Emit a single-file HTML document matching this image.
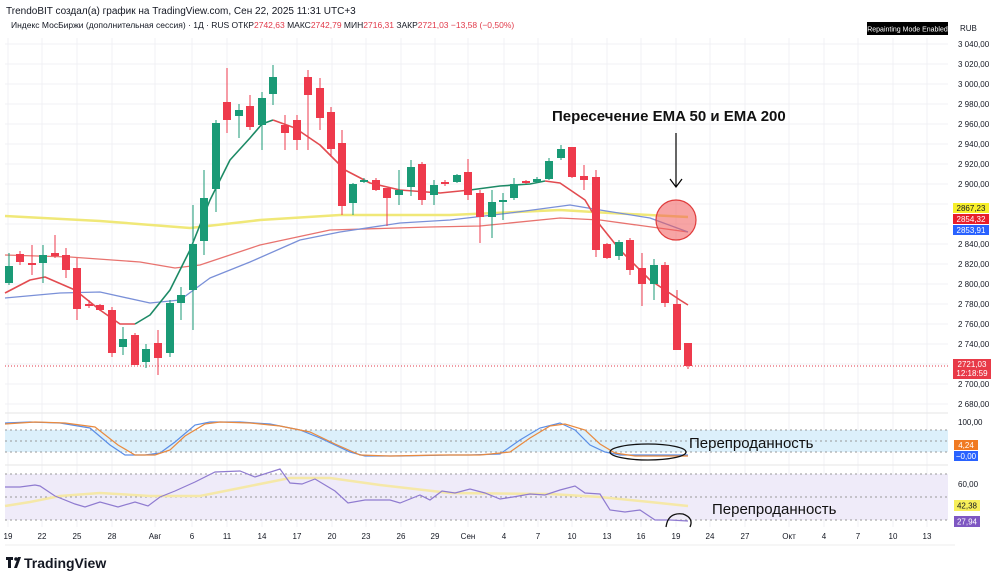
<!DOCTYPE html>
<html><head><meta charset="utf-8"><style>
body{margin:0;background:#fff;width:1000px;height:583px;overflow:hidden;font-family:"Liberation Sans",sans-serif}
svg{display:block}
</style></head><body>
<svg id="s" width="1000" height="583" xmlns="http://www.w3.org/2000/svg" font-family="Liberation Sans, sans-serif">
<rect width="1000" height="583" fill="#fff"/>
<g id="grid" stroke="#f0f1f4" stroke-width="1"></g>
<text x="6" y="14" font-size="10" fill="#131722">TrendoBIT создал(а) график на TradingView.com, Сен 22, 2025 11:31 UTC+3</text>
<text x="11" y="28" font-size="8.5" fill="#131722">Индекс МосБиржи (дополнительная сессия) · 1Д · RUS  ОТКР<tspan fill="#e13a4a">2742,63</tspan>  МАКС<tspan fill="#e13a4a">2742,79</tspan>  МИН<tspan fill="#e13a4a">2716,31</tspan>  ЗАКР<tspan fill="#e13a4a">2721,03</tspan>  <tspan fill="#e13a4a">−13,58 (−0,50%)</tspan></text>
<rect x="867" y="22" width="81" height="13" fill="#000"/>
<text x="907.5" y="31.5" font-size="7" fill="#fff" text-anchor="middle">Repainting Mode Enabled</text>
<text x="960" y="31" font-size="8" fill="#131722">RUB</text>
<!-- panels -->
<rect x="5" y="430" width="943" height="22" fill="#dcf0fb"/>
<rect x="5" y="474" width="943" height="46" fill="#efebf9"/>
<g stroke="#999" stroke-dasharray="2,3" stroke-width="1">
<line x1="5" y1="430" x2="948" y2="430"/><line x1="5" y1="441" x2="948" y2="441"/><line x1="5" y1="452" x2="948" y2="452"/>
<line x1="5" y1="474" x2="948" y2="474"/><line x1="5" y1="497" x2="948" y2="497"/><line x1="5" y1="520" x2="948" y2="520"/>
</g>
<line x1="5" y1="366" x2="948" y2="366" stroke="#e13a4a" stroke-dasharray="1,2" stroke-width="1"/>
<line x1="5" y1="413" x2="948" y2="413" stroke="#e6e6e6"/>
<line x1="5" y1="465" x2="948" y2="465" stroke="#e6e6e6"/>
<line x1="5" y1="545" x2="955" y2="545" stroke="#eee"/>
<g fill="none" stroke-width="1.3" stroke-linejoin="round">
<polyline stroke="#f0e878" stroke-width="2.5" points="5,216 100,221 190,228 260,220 340,215 450,215 560,210 610,213 688,217"/>
<polyline stroke="#e8736f" points="5,255 70,257 140,262 175,268 200,265 260,245 330,230 430,227 480,226 560,218 600,220 688,232"/>
<polyline stroke="#7a90d8" points="5,298 60,293 100,292 150,303 180,300 210,278 250,262 300,240 340,232 400,223 450,220 510,213 570,205 600,210 650,218 688,232"/>
<polyline stroke="#e24b50" stroke-width="1.6" points="5,293 30,280 45,277 75,290 100,310 120,324 135,324"/>
<polyline stroke="#1d8a66" stroke-width="1.6" points="135,324 150,315 170,290 190,250 210,200 230,160 250,138 262,124 273,120"/>
<polyline stroke="#e24b50" stroke-width="1.6" points="273,120 295,128 320,145 345,170 370,183 400,190 440,193 470,190"/>
<polyline stroke="#1d8a66" stroke-width="1.6" points="470,190 500,186 530,184 545,181"/>
<polyline stroke="#e24b50" stroke-width="1.6" points="545,181 560,183 585,200 600,225 620,250 650,280 680,300 688,305"/>
</g>
<g id="candles"></g>
<circle cx="676" cy="220" r="20" fill="rgba(240,90,90,0.55)" stroke="#e03c3c" stroke-width="1.2"/>
<line x1="676" y1="133" x2="676" y2="186" stroke="#000" stroke-width="1.2"/>
<polyline points="670,179 676,187 682,179" fill="none" stroke="#000" stroke-width="1.2"/>
<text x="552" y="121" font-size="15" font-weight="bold" fill="#111">Пересечение EMA 50 и EMA 200</text>
<!-- stoch -->
<g fill="none" stroke-width="1.2">
<polyline stroke="#5b8ee6" points="5,423 30,422 60,423 90,428 110,445 125,455 145,455 160,453 175,442 195,425 210,422 240,422 270,424 300,430 320,438 350,452 365,456 400,456 450,455 470,455 500,454 520,440 540,428 560,423 575,430 590,445 605,452 620,455 688,455"/>
<polyline stroke="#e98a3f" points="5,424 35,422 65,423 95,427 118,445 135,455 155,455 170,450 185,436 205,424 220,422 250,423 280,426 310,432 335,444 360,455 390,456 440,455 480,455 510,452 530,438 550,426 565,424 585,430 600,444 615,453 635,456 688,456"/>
<polyline stroke="#f5e8a8" stroke-width="2.5" points="5,506 30,502 60,496 100,493 150,496 200,496 240,488 290,478 330,478 380,485 450,493 550,494 600,497 650,502 688,506"/>
<polyline stroke="#8f7bd0" points="5,487 20,487 35,485 40,486 55,496 75,504 85,507 100,502 118,507 135,502 148,506 160,497 175,491 195,482 215,472 240,471 255,477 280,469 290,483 302,484 315,479 335,491 348,503 365,500 390,500 400,503 420,495 430,500 442,491 455,493 470,489 485,493 500,499 513,497 530,494 545,495 560,490 575,486 585,493 600,494 610,510 625,512 640,510 655,520 670,520 688,521"/>
</g>
<ellipse cx="648" cy="452" rx="38" ry="8" fill="none" stroke="#111" stroke-width="1.3"/>
<text x="689" y="448" font-size="15" fill="#111">Перепроданность</text>
<path d="M666,527 Q668,512 683,514 Q694,518 690,527" fill="none" stroke="#111" stroke-width="1.3"/>
<text x="712" y="514" font-size="15" fill="#111">Перепроданность</text>
<!-- right axis -->
<g id="axis" font-size="8" fill="#131722"></g>
<rect x="954" y="440" width="24" height="10" fill="#f07a22"/><text x="966" y="448" font-size="8" fill="#fff" text-anchor="middle">4,24</text>
<rect x="954" y="451" width="24" height="10" fill="#2962ff"/><text x="966" y="459" font-size="8" fill="#fff" text-anchor="middle">−0,00</text>
<text x="958" y="425" font-size="8" fill="#131722">100,00</text>
<text x="958" y="487" font-size="8" fill="#131722">60,00</text>
<rect x="954" y="500" width="26" height="11" fill="#f7ef5a"/><text x="967" y="508.5" font-size="8" fill="#131722" text-anchor="middle">42,38</text>
<rect x="954" y="516" width="26" height="11" fill="#7e57c2"/><text x="967" y="524.5" font-size="8" fill="#fff" text-anchor="middle">27,94</text>
<rect x="953" y="203" width="36" height="10" fill="#f7ef2a"/><text x="971" y="211" font-size="8" fill="#131722" text-anchor="middle">2867,23</text>
<rect x="953" y="214" width="36" height="10" fill="#e81e2a"/><text x="971" y="222" font-size="8" fill="#fff" text-anchor="middle">2854,32</text>
<rect x="953" y="225" width="36" height="10" fill="#2962ff"/><text x="971" y="233" font-size="8" fill="#fff" text-anchor="middle">2853,91</text>
<rect x="953" y="359" width="38" height="20" fill="#e83a48"/><text x="972" y="367" font-size="8" fill="#fff" text-anchor="middle">2721,03</text><text x="972" y="376" font-size="8" fill="#fff" text-anchor="middle">12:18:59</text>
<g font-size="8" fill="#131722" text-anchor="middle">
<text x="8" y="539">19</text><text x="42" y="539">22</text><text x="77" y="539">25</text><text x="112" y="539">28</text><text x="155" y="539">Авг</text><text x="192" y="539">6</text><text x="227" y="539">11</text><text x="262" y="539">14</text><text x="297" y="539">17</text><text x="332" y="539">20</text><text x="366" y="539">23</text><text x="401" y="539">26</text><text x="435" y="539">29</text><text x="468" y="539">Сен</text><text x="504" y="539">4</text><text x="538" y="539">7</text><text x="572" y="539">10</text><text x="607" y="539">13</text><text x="641" y="539">16</text><text x="676" y="539">19</text><text x="710" y="539">24</text><text x="745" y="539">27</text><text x="789" y="539">Окт</text><text x="824" y="539">4</text><text x="858" y="539">7</text><text x="893" y="539">10</text><text x="927" y="539">13</text>
</g>
<g transform="translate(6,557)"><rect x="0" y="0" width="7" height="3" fill="#131722"/><rect x="2" y="0" width="3" height="11" fill="#131722"/><circle cx="10" cy="2" r="1.8" fill="#131722"/><polygon points="12,0 15,0 11,11 8,11" fill="#131722"/></g>
<text x="24" y="568" font-size="14" font-weight="bold" fill="#131722">TradingView</text>
</svg>
<script>
var NS="http://www.w3.org/2000/svg";
function el(p,t,a){var e=document.createElementNS(NS,t);for(var k in a)e.setAttribute(k,a[k]);p.appendChild(e);return e;}
var g=document.getElementById('grid');
[8,42,77,112,155,192,227,262,297,332,366,401,435,468,504,538,572,607,641,676,710,745,789,824,858,893,927].forEach(function(x){el(g,'line',{x1:x,y1:38,x2:x,y2:527});});
for(var y=44;y<=404;y+=20)el(g,'line',{x1:5,y1:y,x2:948,y2:y});
var ax=document.getElementById('axis');
for(var p=3040,y=44;p>=2680;p-=20,y+=20){if(p==2880||p==2860||p==2720)continue;var t=el(ax,'text',{x:958,y:y+3});t.textContent=(p+'').replace(/(\d)(\d{3})/,'$1 $2')+',00';}
var C=[[9,'g',266,283,253,285],[20,'r',254,262,251,265],[32,'r',263,265,245,275],[43,'g',255,263,245,283],[55,'r',253,256,235,258],[66,'r',255,270,248,278],[77,'r',268,309,258,320],[89,'r',304,306,300,308],[100,'r',305,310,304,311],[112,'r',310,353,307,357],[123,'g',339,347,327,355],[135,'r',335,365,333,365],[146,'g',349,362,344,368],[158,'r',343,358,330,375],[170,'g',303,353,300,357],[181,'g',295,303,287,320],[193,'g',244,290,205,330],[204,'g',198,241,170,255],[216,'g',123,189,120,212],[227,'r',102,120,68,133],[239,'g',110,116,104,138],[250,'r',106,127,95,130],[262,'g',98,125,92,150],[273,'g',77,94,65,105],[285,'r',125,133,115,150],[297,'r',120,140,115,150],[308,'r',77,95,70,150],[320,'r',88,118,78,130],[331,'r',112,149,107,157],[342,'r',143,206,130,215],[353,'g',184,203,183,215],[364,'g',180,182,178,183],[376,'r',180,190,178,191],[387,'r',188,198,188,226],[399,'g',190,195,170,205],[411,'g',167,187,160,196],[422,'r',164,200,162,205],[434,'g',185,195,180,205],[445,'r',182,184,180,186],[457,'g',175,182,174,183],[468,'r',172,195,159,200],[480,'r',193,217,190,243],[492,'g',202,217,190,238],[503,'g',200,202,193,220],[514,'g',184,198,178,200],[526,'r',181,183,180,184],[537,'g',179,182,177,183],[549,'g',161,179,158,180],[561,'g',149,158,145,160],[572,'r',147,177,147,178],[584,'r',176,180,165,190],[596,'r',177,250,170,257],[607,'r',244,258,243,259],[619,'g',242,256,240,260],[630,'r',240,270,238,275],[642,'r',268,284,253,306],[654,'g',265,284,259,300],[665,'r',265,303,262,307],[677,'r',304,350,290,350],[688,'r',343,366,343,369]];
var cg=document.getElementById('candles');
C.forEach(function(c){var col=c[1]=='g'?'#1a9a76':'#ee3a4c';el(cg,'line',{x1:c[0],y1:c[4],x2:c[0],y2:c[5],stroke:col,'stroke-width':1});el(cg,'rect',{x:c[0]-4,y:c[2],width:8,height:Math.max(1.5,c[3]-c[2]),fill:col});});
</script>
</body></html>
